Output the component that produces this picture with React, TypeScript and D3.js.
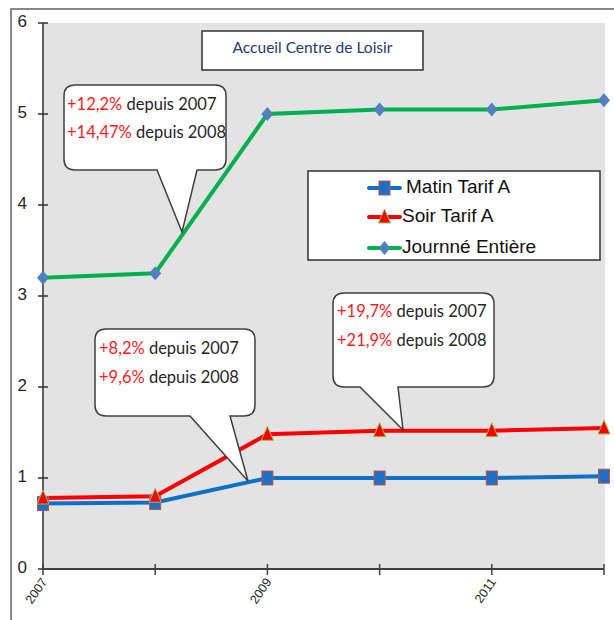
import React from "react";
import * as d3 from "d3";

const years = [2007, 2008, 2009, 2010, 2011, 2012];
const matinTarifA = [0.72, 0.73, 1.0, 1.0, 1.0, 1.02];
const soirTarifA = [0.78, 0.8, 1.48, 1.52, 1.52, 1.55];
const journeeEntiere = [3.2, 3.25, 5.0, 5.05, 5.05, 5.15];
const yTicks = [0, 1, 2, 3, 4, 5, 6];
const xTickLabels = ["2007", "", "2009", "", "2011", ""];
const seriesNames = ["Matin Tarif A", "Soir Tarif A", "Journné Entière"];
const chartTitle = "Accueil Centre de Loisir";
const callout1 = [["+12,2%", " depuis 2007"], ["+14,47%", " depuis 2008"]];
const callout2 = [["+8,2%", " depuis 2007"], ["+9,6%", " depuis 2008"]];
const callout3 = [["+19,7%", " depuis 2007"], ["+21,9%", " depuis 2008"]];

const W = 614;
const H = 620;
const plot = { left: 43, right: 605, top: 23, bottom: 569 };

const x = d3.scaleLinear().domain([2007, 2012]).range([plot.left, 604]);
const y = d3.scaleLinear().domain([0, 6]).range([plot.bottom, plot.top]);

function calloutPath(
  bx: number, by: number, bw: number, bh: number, r: number,
  b1: number, b2: number, tx: number, ty: number
) {
  const x2 = bx + bw;
  const y2 = by + bh;
  return [
    `M${bx + r},${by}`,
    `L${x2 - r},${by}`,
    `Q${x2},${by} ${x2},${by + r}`,
    `L${x2},${y2 - r}`,
    `Q${x2},${y2} ${x2 - r},${y2}`,
    `L${b2},${y2}`,
    `L${tx},${ty}`,
    `L${b1},${y2}`,
    `L${bx + r},${y2}`,
    `Q${bx},${y2} ${bx},${y2 - r}`,
    `L${bx},${by + r}`,
    `Q${bx},${by} ${bx + r},${by}`,
    "Z",
  ].join(" ");
}

const fontCal = "Lato, 'Open Sans', sans-serif";
const fontAr = "'Liberation Sans', Arial, sans-serif";

function Callout(props: {
  lines: string[][]; bx: number; by: number; bw: number; bh: number;
  b1: number; b2: number; tx: number; ty: number; textX: number; textY: number[];
}) {
  const { lines, bx, by, bw, bh, b1, b2, tx, ty, textX, textY } = props;
  return (
    <g>
      <path
        d={calloutPath(bx, by, bw, bh, 11, b1, b2, tx, ty)}
        fill="#ffffff"
        stroke="#404040"
        strokeWidth={1.5}
      />
      {lines.map((l, i) => (
        <text key={i} x={textX} y={textY[i]} fontFamily={fontCal} fontSize={16.5} dominantBaseline="middle">
          <tspan fill="#ff1a1a">{l[0]}</tspan>
          <tspan fill="#262626">{l[1]}</tspan>
        </text>
      ))}
    </g>
  );
}

function Marker({ kind, cx, cy }: { kind: number; cx: number; cy: number }) {
  if (kind === 0) {
    return <rect x={cx - 5.5} y={cy - 7} width={11} height={14} fill="#1f6fc4" stroke="#c0504d" strokeWidth={1} />;
  }
  if (kind === 1) {
    return (
      <path
        d={`M${cx},${cy - 8} L${cx + 6},${cy + 6} L${cx - 6},${cy + 6} Z`}
        fill="#ff0000"
        stroke="#9bbb59"
        strokeWidth={1}
      />
    );
  }
  return (
    <path
      d={`M${cx},${cy - 7} L${cx + 6},${cy} L${cx},${cy + 7} L${cx - 6},${cy} Z`}
      fill="#4f81bd"
    />
  );
}

export default function App() {
  const series = [
    { values: matinTarifA, color: "#0a70c8" },
    { values: soirTarifA, color: "#ff0000" },
    { values: journeeEntiere, color: "#00b050" },
  ];
  const line = d3
    .line<number>()
    .x((_, i) => x(years[i]))
    .y((d) => y(d));

  const legendRows = [188, 217, 248];

  return (
    <svg width={W} height={H} style={{ position: "absolute", left: 0, top: 0 }}>
      <rect x={0} y={0} width={W} height={H} fill="#ffffff" />
      <rect x={11} y={9} width={640} height={640} fill="#ffffff" stroke="#606060" strokeWidth={1.5} />
      <rect x={plot.left} y={plot.top} width={plot.right - plot.left} height={plot.bottom - plot.top} fill="#e3e3e3" />

      {/* y axis */}
      <line x1={plot.left} x2={plot.left} y1={plot.top} y2={plot.bottom} stroke="#303030" strokeWidth={1.5} />
      {yTicks.map((t) => (
        <g key={t}>
          <line x1={plot.left - 5} x2={plot.left + 5} y1={y(t)} y2={y(t)} stroke="#303030" strokeWidth={1.5} />
          <text x={27} y={y(t)} textAnchor="end" dominantBaseline="middle" fontFamily={fontAr} fontSize={17} fill="#262626">
            {t}
          </text>
        </g>
      ))}

      {/* x axis */}
      <line x1={plot.left} x2={x(2012)} y1={plot.bottom} y2={plot.bottom} stroke="#404040" strokeWidth={2} />
      {years.map((yr, i) => (
        <g key={yr}>
          <line x1={x(yr)} x2={x(yr)} y1={plot.bottom - 5} y2={plot.bottom + 6} stroke="#404040" strokeWidth={1.5} />
          {xTickLabels[i] && (
            <text
              transform={`translate(${x(yr) + 2},${plot.bottom + 11}) rotate(-55)`}
              textAnchor="end"
              dominantBaseline="middle"
              fontFamily={fontAr}
              fontSize={12.5}
              fill="#262626"
            >
              {xTickLabels[i]}
            </text>
          )}
        </g>
      ))}

      {/* lines */}
      {series.map((s, k) => (
        <path key={k} d={line(s.values) || ""} fill="none" stroke={s.color} strokeWidth={4} />
      ))}
      {series.map((s, k) =>
        s.values.map((v, i) => <Marker key={`${k}-${i}`} kind={k} cx={x(years[i])} cy={y(v)} />)
      )}

      {/* title */}
      <rect x={202} y={31} width={221} height={39} fill="#ffffff" stroke="#303030" strokeWidth={1.5} />
      <text x={312.5} y={49} textAnchor="middle" dominantBaseline="middle" fontFamily={fontCal} fontSize={15.5} fill="#1f3a6e">
        {chartTitle}
      </text>

      {/* legend */}
      <rect x={308} y={171} width={292} height={89} fill="#ffffff" stroke="#303030" strokeWidth={1.5} />
      {series.map((s, k) => (
        <g key={k}>
          <line x1={369} x2={400} y1={legendRows[k]} y2={legendRows[k]} stroke={s.color} strokeWidth={4} strokeLinecap="round" />
          <Marker kind={k} cx={384.5} cy={legendRows[k]} />
          <text
            x={k === 0 ? 406 : 402}
            y={legendRows[k]}
            dominantBaseline="middle"
            fontFamily={fontAr}
            fontSize={19}
            fill="#111111"
          >
            {seriesNames[k]}
          </text>
        </g>
      ))}

      {/* callouts */}
      <Callout lines={callout1} bx={64} by={85} bw={162} bh={85} b1={157} b2={197} tx={182} ty={232} textX={67} textY={[106, 134]} />
      <Callout lines={callout2} bx={95} by={329} bw={160} bh={87} b1={190} b2={230} tx={248} ty={481} textX={99} textY={[350, 379]} />
      <Callout lines={callout3} bx={333} by={293} bw={161} bh={94} b1={360} b2={398} tx={403} ty={430} textX={337} textY={[313, 342]} />
    </svg>
  );
}
